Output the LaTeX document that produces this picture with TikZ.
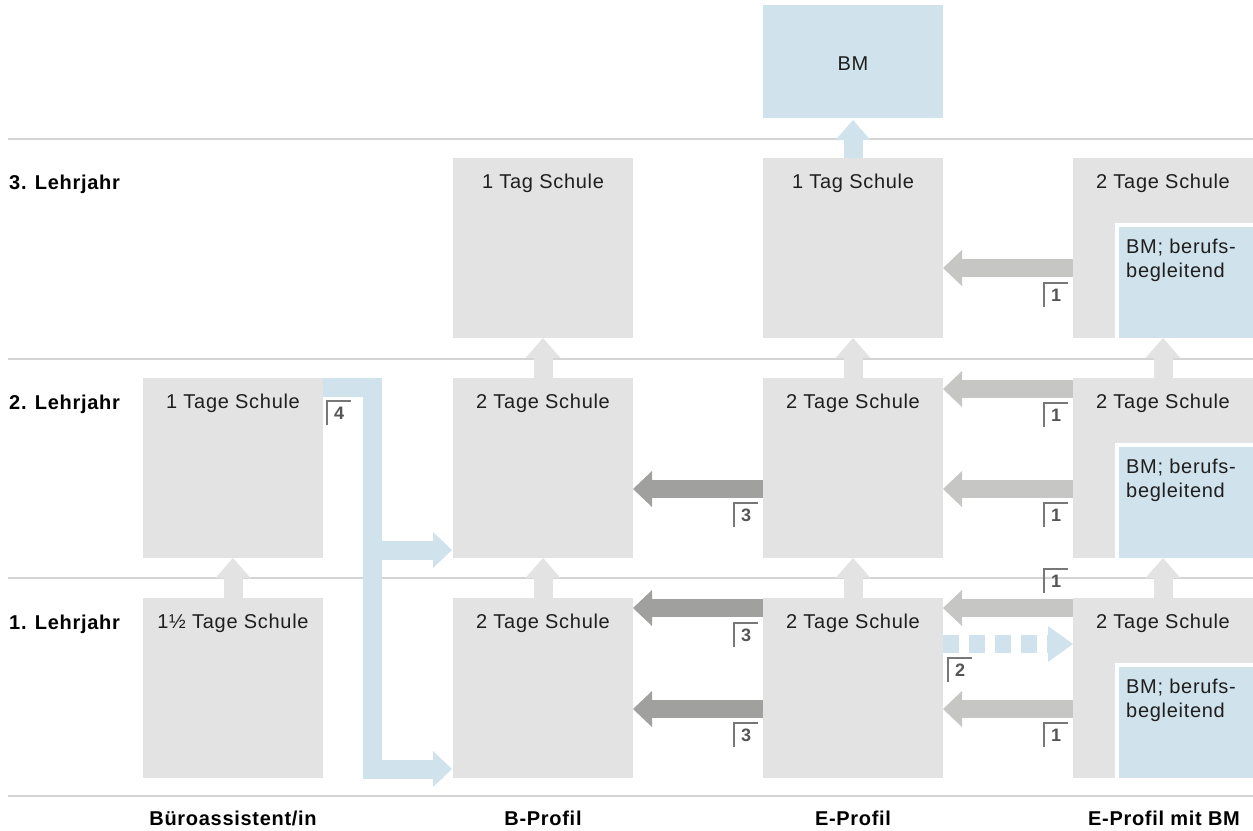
\documentclass[tikz,border=0pt]{standalone}
\usepackage{fontspec}
\setmainfont{Liberation Sans}[LetterSpace=3.5]
\usetikzlibrary{arrows.meta,calc}
\definecolor{boxgrey}{HTML}{E3E3E3}
\definecolor{bmblue}{HTML}{D0E2EC}
\definecolor{arrlight}{HTML}{C6C7C5}
\definecolor{arrdark}{HTML}{A0A19F}
\definecolor{rulegrey}{HTML}{D4D4D4}
\definecolor{txt}{HTML}{1E1E1E}
\definecolor{fngrey}{HTML}{555555}
\definecolor{fnline}{HTML}{777777}
\newcommand{\fnmark}[3]{%
  \node[fnbox] (#1) at #2 {#3};
  \draw[fnframe] (#1.south west) -- (#1.north west) -- (#1.north east);}
\begin{document}
\begin{tikzpicture}[x=1pt,y=-1pt,
  box/.style={fill=boxgrey,draw=none,minimum width=180pt,minimum height=180pt,inner sep=0pt,outer sep=0pt,anchor=north west},
  bmbox/.style={box,fill=bmblue,minimum height=113pt},
  inset/.style={fill=bmblue,draw=white,line width=4pt,minimum width=150pt,minimum height=115pt,inner sep=0pt,outer sep=0pt,anchor=north west},
  title/.style={anchor=base,font=\fontsize{20}{24}\selectfont,text=txt,inner sep=0pt},
  insettxt/.style={anchor=base west,font=\fontsize{20}{24}\selectfont,text=txt,inner sep=0pt},
  rowlab/.style={anchor=base west,font=\bfseries\fontsize{20}{24}\selectfont,text=black,inner sep=0pt},
  collab/.style={anchor=base,font=\bfseries\fontsize{20}{24}\selectfont,text=black,inner sep=0pt},
  fnbox/.style={anchor=north west,minimum width=24pt,minimum height=24pt,inner sep=0pt,font=\bfseries\fontsize{18}{20}\selectfont,text=fngrey},
  fnframe/.style={draw=fnline,line width=1.2pt},
  rule/.style={draw=rulegrey,line width=1.2pt},
  uparr/.style={draw=boxgrey,line width=19pt,-{Triangle[width=35pt 0 0,length=20pt 0 0,line width=0pt 0 0]}},
  blueup/.style={uparr,draw=bmblue},
  lightarr/.style={draw=arrlight,line width=18pt,-{Triangle[width=36pt 0 0,length=19pt 0 0,line width=0pt 0 0]}},
  darkarr/.style={lightarr,draw=arrdark},
  dasharr/.style={draw=bmblue,line width=18pt,dash pattern=on 16pt off 10pt,-{Triangle[width=36pt 0 0,length=25pt 0 0,line width=0pt 0 0]}},
  bluepath/.style={draw=bmblue,line width=19pt,line join=miter},
  bluetip/.style={draw=bmblue,line width=19pt,-{Triangle[width=36pt 0 0,length=19pt 0 0,line width=0pt 0 0]}}
]
\useasboundingbox (0,0) rectangle (1253,830);

% rules
\draw[rule] (8,139) -- (1253,139);
\draw[rule] (8,359) -- (1253,359);
\draw[rule] (8,578) -- (1253,578);
\draw[rule] (8,796) -- (1253,796);

% row labels
\node[rowlab] (l3) at (9,189) {3. Lehrjahr};
\node[rowlab] (l2) at (9,409) {2. Lehrjahr};
\node[rowlab] (l1) at (9,629) {1. Lehrjahr};

% column labels
\node[collab] (c1) at (233,825) {Büroassistent/in};
\node[collab] (c2) at (543,825) {B-Profil};
\node[collab] (c3) at (853,825) {E-Profil};
\node[collab] (c4) at (1164,825) {E-Profil mit BM};

% boxes
\node[box] (ba2) at (143,378) {};
\node[box] (ba1) at (143,598) {};
\node[box] (bp3) at (453,158) {};
\node[box] (bp2) at (453,378) {};
\node[box] (bp1) at (453,598) {};
\node[bmbox] (bm) at (763,5) {};
\node[box] (ep3) at (763,158) {};
\node[box] (ep2) at (763,378) {};
\node[box] (ep1) at (763,598) {};
\node[box] (em3) at (1073,158) {};
\node[box] (em2) at (1073,378) {};
\node[box] (em1) at (1073,598) {};
\node[inset] (in3) at (1117,225) {};
\node[inset] (in2) at (1117,445) {};
\node[inset] (in1) at (1117,665) {};

% titles
\node[title] (tba2) at ($(ba2.north)+(0,30)$) {1 Tage Schule};
\node[title] (tba1) at ($(ba1.north)+(0,30)$) {1½ Tage Schule};
\node[title] (tbp3) at ($(bp3.north)+(0,30)$) {1 Tag Schule};
\node[title] (tbp2) at ($(bp2.north)+(0,30)$) {2 Tage Schule};
\node[title] (tbp1) at ($(bp1.north)+(0,30)$) {2 Tage Schule};
\node[title] (tbm) at ($(bm.center)+(0,9)$) {BM};
\node[title] (tep3) at ($(ep3.north)+(0,30)$) {1 Tag Schule};
\node[title] (tep2) at ($(ep2.north)+(0,30)$) {2 Tage Schule};
\node[title] (tep1) at ($(ep1.north)+(0,30)$) {2 Tage Schule};
\node[title] (tem3) at ($(em3.north)+(0,30)$) {2 Tage Schule};
\node[title] (tem2) at ($(em2.north)+(0,30)$) {2 Tage Schule};
\node[title] (tem1) at ($(em1.north)+(0,30)$) {2 Tage Schule};
\foreach \n in {in3,in2,in1}{
  \node[insettxt] at ($(\n.north west)+(9,28)$) {BM; berufs-};
  \node[insettxt] at ($(\n.north west)+(9,52)$) {begleitend};
}

% vertical arrows
\draw[uparr] (ba1.north) -- (ba2.south);
\draw[uparr] (bp1.north) -- (bp2.south);
\draw[uparr] (bp2.north) -- (bp3.south);
\draw[uparr] (ep1.north) -- (ep2.south);
\draw[uparr] (ep2.north) -- (ep3.south);
\draw[uparr] (em1.north) -- (em2.south);
\draw[uparr] (em2.north) -- (em3.south);
\draw[blueup] (ep3.north) -- ([yshift=-2pt]bm.south);

% horizontal arrows
\draw[lightarr] ($(em3.north west)+(0,110)$) -- ($(ep3.north east)+(0,110)$);
\draw[lightarr] ($(em2.north west)+(0,11)$) -- ($(ep2.north east)+(0,11)$);
\draw[lightarr] ($(em2.north west)+(0,111)$) -- ($(ep2.north east)+(0,111)$);
\draw[darkarr] ($(ep2.north west)+(0,111)$) -- ($(bp2.north east)+(0,111)$);
\draw[lightarr] ($(em1.north west)+(0,10)$) -- ($(ep1.north east)+(0,10)$);
\draw[darkarr] ($(ep1.north west)+(0,10)$) -- ($(bp1.north east)+(0,10)$);
\draw[dasharr] ($(ep1.north east)+(0,46)$) -- ($(em1.north west)+(0,46)$);
\draw[lightarr] ($(em1.north west)+(0,111)$) -- ($(ep1.north east)+(0,111)$);
\draw[darkarr] ($(ep1.north west)+(0,111)$) -- ($(bp1.north east)+(0,111)$);

% blue route from Bueroassistent
\coordinate (bk1) at ($(ba2.north east)+(49.5,9.5)$);
\coordinate (bk2) at ($(bk1 |- bp1.south)+(0,-9)$);
\coordinate (bk3) at ($(bk1 |- bp2.south)+(0,-8)$);
\draw[bluepath] ($(ba2.north east)+(0,9.5)$) -- (bk1) -- (bk2) -- ($(bp1.south west)+(-10,-9)$);
\draw[bluetip] ($(bp1.south west)+(-20,-9)$) -- ($(bp1.south west)+(-1,-9)$);
\draw[bluetip] (bk3) -- ($(bp2.south west)+(-1,-8)$);

% footnote markers
\fnmark{f1}{($(em3.north west)+(-29,125)$)}{1}
\fnmark{f2}{($(em2.north west)+(-29,25)$)}{1}
\fnmark{f3}{($(em2.north west)+(-29,125)$)}{1}
\fnmark{f4}{($(ep2.north west)+(-29,125)$)}{3}
\fnmark{f5}{($(ba2.north east)+(4,23)$)}{4}
\fnmark{f6}{($(em1.north west)+(-29,-29)$)}{1}
\fnmark{f7}{($(ep1.north west)+(-29,25)$)}{3}
\fnmark{f8}{($(ep1.north east)+(5,60)$)}{2}
\fnmark{f9}{($(ep1.north west)+(-29,125)$)}{3}
\fnmark{f10}{($(em1.north west)+(-29,125)$)}{1}
\end{tikzpicture}
\end{document}
